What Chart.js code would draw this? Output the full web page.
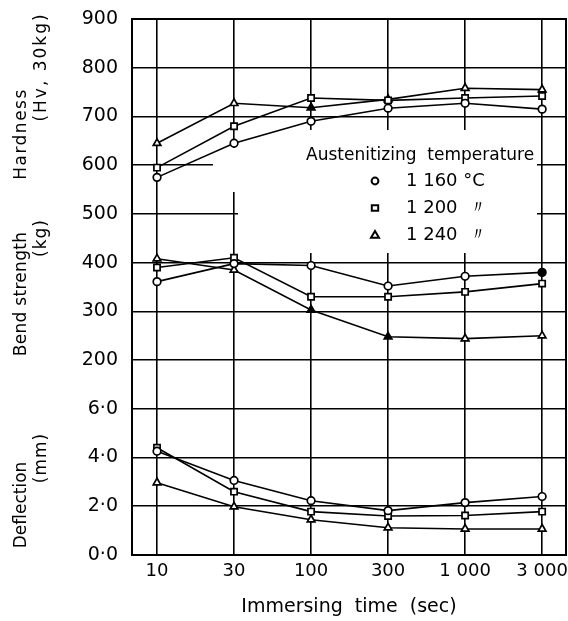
<!DOCTYPE html>
<html>
<head>
<meta charset="utf-8">
<script src="https://cdn.jsdelivr.net/npm/chart.js@4"></script>
<style>
  html, body { margin: 0; padding: 0; background: #fff; }
  #wrap { width: 568px; height: 621px; }
</style>
</head>
<body>
<div id="wrap"><canvas id="chart" width="568" height="621"></canvas></div>
<script>
// === DATA ===
const times = ["10", "30", "100", "300", "1 000", "3 000"];
const yTickLabels = ["0\u00b70", "2\u00b70", "4\u00b70", "6\u00b70", "200", "300", "400", "500", "600", "700", "800", "900"];
const temps = ["1 160 \u00b0C", "1 200  \u3003", "1 240  \u3003"];

// hardness (Hv, 30kg)
const hard1160 = [575, 645, 690, 717, 727, 715];
const hard1200 = [595, 680, 738, 733, 738, 742];
const hard1240 = [645, 727, 718, 735, 758, 755];
// bend strength (kg)
const bend1160 = [361, 398, 394, 352, 372, 380];
const bend1200 = [390, 410, 330, 330, 340, 357];
const bend1240 = [408, 385, 303, 248, 244, 250];
// deflection (mm)
const defl1160 = [4.26, 3.06, 2.23, 1.82, 2.15, 2.4];
const defl1200 = [4.4, 2.6, 1.78, 1.6, 1.62, 1.78];
const defl1240 = [2.97, 1.98, 1.45, 1.12, 1.07, 1.07];

// the three panels share one axis: 0..6 mm on the lower 3 steps, 200..900 above
const kgToAxis = v => v / 100 + 2;
const mmToAxis = v => v / 2;

const FONT = "'DejaVu Sans', sans-serif";
const markers = ["circle", "rect", "triangle"];

function series(vals, conv, style, filled) {
    return {
        data: vals.map((v, i) => ({ x: i, y: conv(v) })),
        borderColor: "#000",
        borderWidth: 1.6,
        pointStyle: style,
        pointRadius: style === "circle" ? 3.8 : 4.4,
        pointBorderWidth: 1.7,
        pointBorderColor: "#000",
        pointBackgroundColor: vals.map((_, i) => (filled || []).includes(i) ? "#000" : "#fff"),
        tension: 0,
        fill: false
    };
}

const datasets = [
    series(hard1160, kgToAxis, markers[0]),
    series(hard1200, kgToAxis, markers[1]),
    series(hard1240, kgToAxis, markers[2], [2]),
    series(bend1160, kgToAxis, markers[0], [5]),
    series(bend1200, kgToAxis, markers[1]),
    series(bend1240, kgToAxis, markers[2], [2, 3]),
    series(defl1160, mmToAxis, markers[0]),
    series(defl1200, mmToAxis, markers[1]),
    series(defl1240, mmToAxis, markers[2])
];

// grid breaks behind the legend (as in the printed figure)
const gridGaps = [
    { x0: 238, y0: 130, x1: 537, y1: 253 },
    { x0: 213, y0: 148, x1: 242, y1: 192 }
];

function drawMarker(ctx, style, x, y, r) {
    ctx.save();
    ctx.beginPath();
    if (style === "circle") {
        ctx.arc(x, y, r * 0.85, 0, Math.PI * 2);
    } else if (style === "rect") {
        ctx.rect(x - r * 0.8, y - r * 0.7, r * 1.6, r * 1.4);
    } else {
        ctx.moveTo(x, y - r);
        ctx.lineTo(x + r, y + r * 0.7);
        ctx.lineTo(x - r, y + r * 0.7);
        ctx.closePath();
    }
    ctx.fillStyle = "#fff";
    ctx.fill();
    ctx.lineWidth = 2;
    ctx.strokeStyle = "#000";
    ctx.stroke();
    ctx.restore();
}

const framePlugin = {
    id: "frame",
    beforeDraw(chart) {
        const ctx = chart.ctx;
        ctx.save();
        ctx.fillStyle = "#fff";
        ctx.fillRect(0, 0, chart.width, chart.height);
        ctx.restore();
    },
    beforeDatasetsDraw(chart) {
        const ctx = chart.ctx;
        const a = chart.chartArea;
        ctx.save();
        ctx.fillStyle = "#fff";
        gridGaps.forEach(g => ctx.fillRect(g.x0, g.y0, g.x1 - g.x0, g.y1 - g.y0));
        ctx.strokeStyle = "#000";
        ctx.lineWidth = 2;
        ctx.strokeRect(a.left, a.top, a.right - a.left, a.bottom - a.top);
        ctx.restore();
    },
    afterDraw(chart) {
        const ctx = chart.ctx;
        ctx.save();
        ctx.textBaseline = "middle";

        // legend
        ctx.fillStyle = "#000";
        ctx.font = "17px " + FONT;
        ctx.textAlign = "left";
        ctx.fillText("Austenitizing  temperature", 306, 156);
        ctx.font = "18px " + FONT;
        temps.forEach((t, i) => {
            const y = 181 + i * 27;
            drawMarker(ctx, markers[i], 375, y, 4);
            ctx.fillStyle = "#000";
            ctx.fillText(t, 406, y);
        });

        // rotated axis titles: text, x, y, letter spacing
        const titles = [
            ["Hardness", 22, 134, 1.5], ["(Hv, 30kg)", 42, 67, 2],
            ["Bend strength", 22, 294, 0.3], ["(kg)", 42, 238, 1],
            ["Deflection", 22, 505, 0], ["(mm)", 42, 458, 1]
        ];
        ctx.font = "17px " + FONT;
        ctx.textAlign = "center";
        ctx.fillStyle = "#000";
        titles.forEach(([txt, x, y, sp]) => {
            ctx.save();
            ctx.letterSpacing = sp + "px";
            ctx.translate(x, y);
            ctx.rotate(-Math.PI / 2);
            ctx.fillText(txt, 0, 0);
            ctx.restore();
        });
        ctx.restore();
    }
};

new Chart(document.getElementById("chart"), {
    type: "line",
    data: { datasets },
    plugins: [framePlugin],
    options: {
        responsive: false,
        animation: false,
        devicePixelRatio: 1,
        layout: { autoPadding: false, padding: { top: 19, right: 2 } },
        plugins: { legend: { display: false }, tooltip: { enabled: false } },
        scales: {
            x: {
                type: "linear",
                min: -0.325,
                max: 5.31,
                afterBuildTicks: s => { s.ticks = times.map((_, i) => ({ value: i })); },
                afterFit: s => { s.height = 66; s.paddingLeft = 0; s.paddingRight = 0; },
                grid: { color: "#000", lineWidth: 1.6, drawTicks: false },
                border: { display: false },
                ticks: {
                    padding: 6,
                    color: "#000",
                    font: { family: FONT, size: 18 },
                    callback: v => times[v]
                },
                title: {
                    display: true,
                    text: "Immersing  time  (sec)",
                    color: "#000",
                    font: { family: FONT, size: 19 },
                    padding: { bottom: 3 }
                }
            },
            y: {
                min: 0,
                max: 11,
                afterBuildTicks: s => { s.ticks = yTickLabels.map((_, i) => ({ value: i })); },
                afterFit: s => { s.width = 132; s.paddingTop = 0; s.paddingBottom = 0; },
                grid: { color: "#000", lineWidth: 1.6, drawTicks: false },
                border: { display: false },
                ticks: {
                    padding: 14,
                    color: "#000",
                    font: { family: FONT, size: 19 },
                    callback: v => yTickLabels[v]
                }
            }
        }
    }
});
</script>
</body>
</html>
